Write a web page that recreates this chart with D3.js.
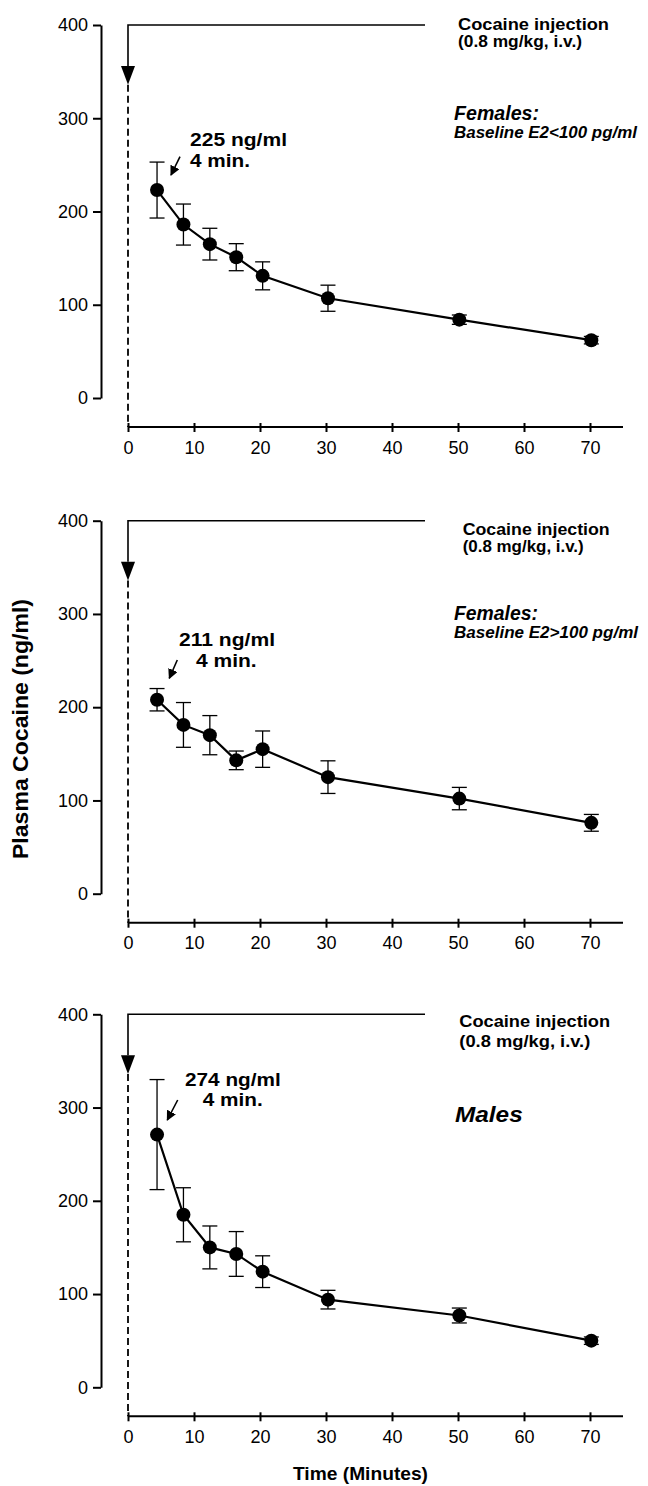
<!DOCTYPE html>
<html>
<head>
<meta charset="utf-8">
<script src="https://cdn.jsdelivr.net/npm/d3@7"></script>
<style>
  html, body { margin: 0; padding: 0; background: #fff; }
  svg { display: block; }
  text { font-family: "Liberation Sans", Arial, Helvetica, sans-serif; fill: #000; }
</style>
</head>
<body>
<svg id="chart" width="648" height="1486"></svg>
<script>
// ---- data ----
const times = [4.4, 8.4, 12.4, 16.4, 20.4, 30.3, 50.2, 70.2];

const femLowMean = [223, 186, 165, 151, 131, 107, 84, 62];
const femLowErr  = [30, 22, 17, 14.5, 15, 14, 5, 4];

const femHighMean = [208, 181, 170, 143, 155, 125, 102, 76];
const femHighErr  = [12, 24, 21, 10, 19.5, 17.5, 12, 9];

const maleMean = [271, 185, 150, 143, 124, 94, 77, 50];
const maleErr  = [59, 29, 23, 24, 17, 10, 8, 4];

const xTicks = [0, 10, 20, 30, 40, 50, 60, 70];
const yTicks = [0, 100, 200, 300, 400];

const peakLabels = ["225 ng/ml", "211 ng/ml", "274 ng/ml"];
const peakTime = "4 min.";
const injectionLines = ["Cocaine injection", "(0.8 mg/kg, i.v.)"];
const groupTitles = [["Females:", "Baseline E2<100 pg/ml"], ["Females:", "Baseline E2>100 pg/ml"], ["Males"]];

const yTitle = "Plasma Cocaine (ng/ml)";
const xTitle = "Time (Minutes)";

// ---- layout ----
const svg = d3.select("#chart");
const panelTops = [25, 520.7, 1014.3];
const panelH = 373;       // 400 -> 0
const xAxisGap = 29;      // below 0
const yAxisX = 101;

const x = d3.scaleLinear().domain([0, 75]).range([128, 623]);
const y = d3.scaleLinear().domain([0, 400]).range([panelH, 0]);

const panels = [
  { mean: femLowMean, err: femLowErr },
  { mean: femHighMean, err: femHighErr },
  { mean: maleMean, err: maleErr }
];

// text placement per panel (local coords)
const txt = [
  { inj: [[458, 5, 151], [458, 22.3, 124]],
    grp: [[454, 95, 85, 19.5], [454, 113.3, 183, 16.5]],
    peak: [190, 121, 97], pt: [190, 141.5, 60],
    arr: [180, 131.7, 171, 150] },
  { inj: [[462.7, 14.3, 147], [462.7, 31, 121]],
    grp: [[454, 99.3, 84, 19.5], [454, 117, 184, 16.5]],
    peak: [179, 125.5, 96], pt: [196, 146.5, 60.7],
    arr: [177.3, 139.3, 169.3, 157.6] },
  { inj: [[459.3, 13, 150.7], [459.3, 32.4, 131]],
    grp: [[455, 107.4, 67.7, 21.5]],
    peak: [185, 72, 95.7], pt: [202.7, 92, 60],
    arr: [177.7, 85.7, 167.3, 105.7] }
];

svg.append("defs").append("marker")
  .attr("id", "ah").attr("viewBox", "0 0 10 10").attr("refX", 9).attr("refY", 5)
  .attr("markerWidth", 10).attr("markerHeight", 10).attr("markerUnits", "userSpaceOnUse")
  .attr("orient", "auto")
  .append("path").attr("d", "M0,0 L10,5 L0,10 Z").attr("fill", "#000");

panels.forEach((p, i) => {
  const g = svg.append("g").attr("transform", `translate(0,${panelTops[i]})`);

  // y axis
  const ya = g.append("g").attr("transform", `translate(${yAxisX},0)`)
    .call(d3.axisLeft(y).tickValues(yTicks).tickSize(8).tickPadding(5).tickSizeOuter(0));
  ya.select(".domain").attr("stroke-width", 2);
  ya.selectAll(".tick line").attr("stroke-width", 2);
  ya.selectAll(".tick text").style("font-size", "18px").attr("fill", "#000");

  // x axis
  const xa = g.append("g").attr("transform", `translate(0,${panelH + xAxisGap})`)
    .call(d3.axisBottom(x).tickValues(xTicks).tickSize(5).tickPadding(9).tickSizeOuter(0));
  xa.select(".domain").attr("stroke-width", 2).attr("d", `M${x(0)},0H${x(75)}`);
  xa.selectAll(".tick line").attr("stroke-width", 2).attr("y1", -4);
  xa.selectAll(".tick text").style("font-size", "18px").attr("fill", "#000");

  // injection arrow
  g.append("path")
    .attr("d", `M${x(45)},${y(400)}H${x(0)}V${y(356)}`)
    .attr("fill", "none").attr("stroke", "#000").attr("stroke-width", 1.6);
  g.append("path")
    .attr("d", `M${x(0) - 7},${y(356)}L${x(0) + 7},${y(356)}L${x(0)},${y(336)}Z`)
    .attr("fill", "#000");
  g.append("line")
    .attr("x1", x(0)).attr("x2", x(0)).attr("y1", y(336)).attr("y2", panelH + xAxisGap)
    .attr("stroke", "#000").attr("stroke-width", 1.8).attr("stroke-dasharray", "7,4");

  const pts = times.map((t, k) => ({ t, m: p.mean[k], e: p.err[k] }));

  // error bars
  const eb = g.append("g").attr("stroke", "#000").attr("stroke-width", 1.3);
  pts.forEach(d => {
    eb.append("line").attr("x1", x(d.t)).attr("x2", x(d.t)).attr("y1", y(d.m - d.e)).attr("y2", y(d.m + d.e));
    [d.m - d.e, d.m + d.e].forEach(v => {
      eb.append("line").attr("x1", x(d.t) - 7.5).attr("x2", x(d.t) + 7.5).attr("y1", y(v)).attr("y2", y(v));
    });
  });

  // line
  g.append("path").datum(pts)
    .attr("d", d3.line().x(d => x(d.t)).y(d => y(d.m)))
    .attr("fill", "none").attr("stroke", "#000").attr("stroke-width", 2.2);

  // markers
  g.selectAll("circle.pt").data(pts).join("circle")
    .attr("cx", d => x(d.t)).attr("cy", d => y(d.m)).attr("r", 7).attr("fill", "#000");

  // texts
  const T = txt[i];
  injectionLines.forEach((s, k) => {
    g.append("text").attr("x", T.inj[k][0]).attr("y", T.inj[k][1])
      .attr("textLength", T.inj[k][2]).attr("lengthAdjust", "spacingAndGlyphs")
      .style("font-size", "16px").style("font-weight", "bold").text(s);
  });
  groupTitles[i].forEach((s, k) => {
    const c = T.grp[k];
    g.append("text").attr("x", c[0]).attr("y", c[1])
      .attr("textLength", c[2]).attr("lengthAdjust", "spacingAndGlyphs")
      .style("font-size", c[3] + "px").style("font-weight", "bold").style("font-style", "italic").text(s);
  });
  g.append("text").attr("x", T.peak[0]).attr("y", T.peak[1])
    .attr("textLength", T.peak[2]).attr("lengthAdjust", "spacingAndGlyphs")
    .style("font-size", "18px").style("font-weight", "bold").text(peakLabels[i]);
  g.append("text").attr("x", T.pt[0]).attr("y", T.pt[1])
    .attr("textLength", T.pt[2]).attr("lengthAdjust", "spacingAndGlyphs")
    .style("font-size", "18px").style("font-weight", "bold").text(peakTime);
  g.append("line")
    .attr("x1", T.arr[0]).attr("y1", T.arr[1]).attr("x2", T.arr[2]).attr("y2", T.arr[3])
    .attr("stroke", "#000").attr("stroke-width", 1.6).attr("marker-end", "url(#ah)");
});

// axis titles
svg.append("text")
  .attr("transform", "translate(28,729) rotate(-90)")
  .attr("text-anchor", "middle")
  .attr("textLength", 260).attr("lengthAdjust", "spacingAndGlyphs")
  .style("font-size", "22px").style("font-weight", "bold").text(yTitle);

svg.append("text")
  .attr("x", 293).attr("y", 1480)
  .attr("textLength", 135).attr("lengthAdjust", "spacingAndGlyphs")
  .style("font-size", "18.5px").style("font-weight", "bold").text(xTitle);
</script>
</body>
</html>
